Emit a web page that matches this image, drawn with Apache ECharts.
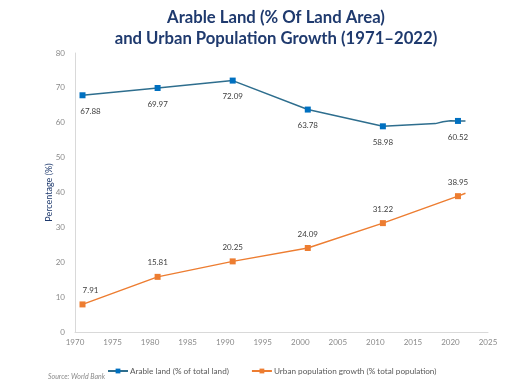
<!DOCTYPE html>
<html><head><meta charset="utf-8">
<script src="https://cdn.jsdelivr.net/npm/echarts@6/dist/echarts.min.js"></script>
<style>html,body{margin:0;padding:0;background:#fff}#c{width:528px;height:384px}</style>
</head><body><div id="c"></div>
<script>
const titleLines = ['Arable Land (% Of Land Area)', 'and Urban Population Growth (1971–2022)'];
const arableYears = [1971, 1981, 1991, 2001, 2011, 2018, 2019, 2020, 2021, 2022];
const arableValues = [67.88, 69.97, 72.09, 63.78, 58.98, 59.75, 60.3, 60.55, 60.52, 60.5];
const urbanYears = [1971, 1981, 1991, 2001, 2011, 2021, 2022];
const urbanValues = [7.91, 15.81, 20.25, 24.09, 31.22, 38.95, 39.8];
const markerYears = [1971, 1981, 1991, 2001, 2011, 2021];
const seriesNames = ['Arable land (% of total land)', 'Urban population growth (% total population)'];

function build(years, vals) {
  return years.map((y, i) => {
    const m = markerYears.includes(y);
    const item = { value: [y, vals[i]], symbolSize: m ? 6 : 0, label: { show: m } };
    if (y === 1971) item.label.offset = [8, 0];
    return item;
  });
}

const chart = echarts.init(document.getElementById('c'));
chart.setOption({
  animation: false,
  textStyle: { fontFamily: 'Lato' },
  title: {
    text: titleLines.join('\n'), left: 271, textAlign: 'center', top: 2,
    textStyle: { fontFamily: 'Lato', fontSize: 16.7, fontWeight: 'bold', color: '#1F3A6E', lineHeight: 21 }
  },
  grid: { left: 75, right: 40, top: 53, bottom: 52 },
  xAxis: {
    type: 'value', min: 1970, max: 2025, interval: 5,
    axisLine: { lineStyle: { color: '#d9d9d9' } },
    axisTick: { show: false }, splitLine: { show: false },
    axisLabel: { color: '#8a8a8a', fontSize: 8, margin: 6, formatter: v => String(v) }
  },
  yAxis: {
    type: 'value', min: 0, max: 80, interval: 10,
    name: 'Percentage (%)', nameLocation: 'middle', nameGap: 21, nameMoveOverlap: false,
    nameTextStyle: { color: '#1F3A6E', fontSize: 9 },
    axisLine: { show: true, lineStyle: { color: '#d9d9d9' } },
    axisTick: { show: false }, splitLine: { show: false },
    axisLabel: { color: '#8a8a8a', fontSize: 8, margin: 10 }
  },
  legend: {
    bottom: 4, left: 102, itemGap: 22, itemWidth: 20, itemHeight: 6,
    textStyle: { color: '#595959', fontSize: 8.2, padding: [0, 0, 0, -3] },
    data: seriesNames
  },
  graphic: [{
    type: 'text', left: 48, top: 373,
    style: { text: 'Source: World Bank', fontSize: 7, fontStyle: 'italic', fill: '#8a8a8a', fontFamily: 'Lato' }
  }],
  series: [{
    name: seriesNames[0], type: 'line',
    symbol: 'rect', symbolSize: 6,
    lineStyle: { color: '#2E6E8E', width: 1.5 },
    itemStyle: { color: '#0070C0' },
    label: { position: 'bottom', distance: 9, color: '#404040', fontSize: 8 },
    data: build(arableYears, arableValues)
  }, {
    name: seriesNames[1], type: 'line',
    symbol: 'rect', symbolSize: 6,
    lineStyle: { color: '#ED7D31', width: 1.5 },
    itemStyle: { color: '#ED7D31' },
    label: { position: 'top', distance: 7, color: '#404040', fontSize: 8 },
    data: build(urbanYears, urbanValues)
  }]
});
</script></body></html>
